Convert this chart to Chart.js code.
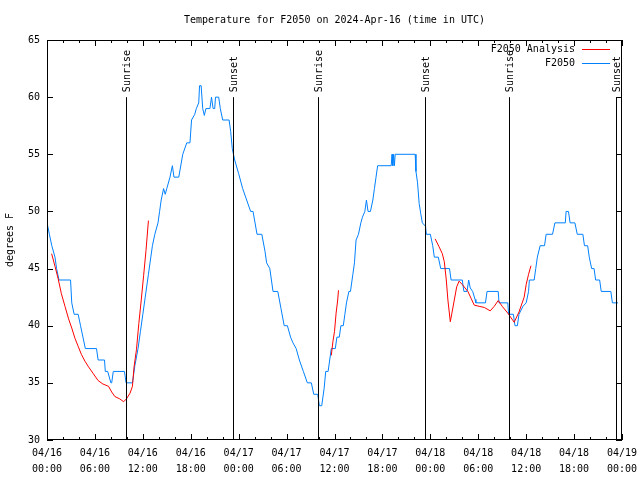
<!DOCTYPE html>
<html>
<head>
<meta charset="utf-8">
<script src="https://cdn.jsdelivr.net/npm/chart.js@4/dist/chart.umd.min.js"></script>
<style>
  html, body { margin: 0; padding: 0; background: #fff; }
</style>
</head>
<body>
<canvas id="chart" width="640" height="480"></canvas>
<script>
// hours since 2024-04-16 00:00 UTC
const obsHours = [
  0, 0.3, 0.6, 1.0, 1.2, 1.5, 2.95, 3.1, 3.4, 3.9, 4.2, 4.5, 4.8, 6.2, 6.4, 7.2, 7.3, 7.6, 8.0, 8.1,
  8.3, 9.7, 9.9, 10.7, 11.0, 11.4, 11.7, 12.0, 12.3, 12.7, 13.0, 13.2, 13.5, 13.9, 14.1, 14.3, 14.6, 14.8,
  15.0, 15.4, 15.7, 15.9, 16.5, 17.0, 17.5, 17.9, 18.1, 18.5, 18.7, 19.0, 19.1, 19.3, 19.5, 19.7, 19.9,
  20.4, 20.6, 20.8, 21.0, 21.1, 21.5, 21.7, 22.0, 22.8, 23.0, 23.2, 23.5, 24.0, 24.5, 25.0, 25.5, 25.8,
  26.3, 26.9, 27.3, 27.5, 27.9, 28.3, 28.9, 29.3, 29.7, 30.1, 30.5, 30.8, 31.2, 31.6, 32.1, 32.6, 33.1,
  33.4, 33.9, 34.1, 34.4, 34.7, 34.9, 35.2, 35.4, 35.6, 36.1, 36.3, 36.6, 36.8, 37.1, 37.3, 37.5, 37.8,
  38.0, 38.3, 38.5, 38.7, 39.0, 39.3, 39.5, 39.8, 40.0, 40.2, 40.5, 40.8, 41.0, 41.2, 41.4, 41.6, 43.1,
  43.2, 43.3, 43.4, 43.5, 43.6, 46.1, 46.2, 46.4, 46.6, 46.8, 47.0, 47.4, 47.5, 48.0, 48.3, 48.5, 49.0,
  49.3, 50.4, 50.6, 52.0, 52.2, 52.6, 52.8, 53.0, 53.3, 53.6, 53.7, 54.9, 55.1, 56.5, 56.6, 57.7, 57.8,
  58.4, 58.6, 58.9, 59.1, 59.6, 60.0, 60.3, 60.4, 61.0, 61.2, 61.4, 61.75, 62.3, 62.5, 63.3, 63.6, 64.9,
  65.0, 65.3, 65.5, 66.1, 66.4, 67.1, 67.3, 67.7, 67.9, 68.2, 68.5, 68.7, 69.2, 69.4, 70.6, 70.8, 71.5
]
const obsTemps = [
  49, 48, 47, 46, 45, 44, 44, 42, 41, 41, 40, 39, 38, 38, 37, 37, 36, 36, 35, 35,
  36, 36, 35, 35, 36.5, 38, 39.5, 41, 42.5, 44.5, 46, 47, 48, 49, 50, 51, 52, 51.5,
  52, 53, 54, 53, 53, 55, 56, 56, 58, 58.5, 59, 59.5, 61, 61, 59, 58.4, 59,
  59, 60, 59, 59, 60, 60, 59, 58, 58, 57, 55.5, 54.5, 53.3, 52, 51, 50, 50,
  48, 48, 46.5, 45.5, 45, 43, 43, 41.5, 40, 40, 39, 38.5, 38, 37, 36, 35, 35,
  34, 34, 33, 33, 34.5, 36, 36, 37, 38, 38, 39, 39, 40, 40, 41, 42, 43,
  43, 44.5, 45.5, 47.5, 48, 49, 49.5, 50, 51, 50, 50, 51, 52, 53, 54, 54, 54,
  55, 54, 55, 54, 55, 55, 53.5, 52.5, 50.7, 49.8, 49, 48.7, 48, 48, 47, 46, 46,
  45, 45, 44, 44, 43, 43, 44, 43.3, 43, 42.3, 42, 42, 43, 43, 42, 42, 41,
  41, 40, 40, 41, 41.7, 42, 43, 44, 44, 45, 46, 47, 47, 48, 48, 49, 49,
  50, 50, 49, 49, 48, 48, 47, 47, 46, 45, 45, 44, 44, 43, 43, 42, 42
]

// analysis segments, null breaks the line
const anaHours = [
  0.58, 1.0, 1.4, 1.8, 2.25, 2.7, 3.1, 3.5, 3.9, 4.3, 4.75, 5.2, 5.8, 6.4, 7.0, 7.7, 8.1, 8.5, 9.1, 9.6,
  9.95, 10.4, 10.7, 10.9, 11.2, 11.5, 11.8, 12.1, 12.4, 12.7,
  13.0,
  35.6, 35.8, 36.0, 36.2, 36.4, 36.5,
  37.0,
  48.6, 49.1, 49.5, 49.75, 50.0, 50.2, 50.5, 50.7, 51.0, 51.3, 51.6, 52.0, 52.7, 53.1, 53.5, 54.1, 54.75,
  55.5, 56.0, 56.5, 57.0, 57.7, 58.5, 59.1, 59.75, 60.0, 60.3, 60.6
]
const anaTemps = [
  46.3, 45.2, 44.1, 42.8, 41.7, 40.6, 39.8, 38.9, 38.2, 37.5, 36.9, 36.4, 35.8, 35.2, 34.9, 34.7, 34.2, 33.8, 33.6, 33.35,
  33.6, 34.1, 34.7, 36.4, 37.9, 40.2, 42.25, 44.4, 46.6, 49.2,
  null,
  37.4, 38.6, 39.5, 41.1, 42.25, 43.1,
  null,
  47.6, 46.9, 46.3, 45.6, 44.0, 42.25, 40.35, 41.1, 42.25, 43.4, 43.9, 43.6, 43.0, 42.4, 41.8, 41.7, 41.6,
  41.3, 41.7, 42.2, 41.7, 41.1, 40.3, 41.2, 42.5, 43.6, 44.5, 45.25
]

const eventHours = [9.875, 23.3, 33.9, 47.3, 57.8, 71.3]
const eventLabels = ["Sunrise", "Sunset", "Sunrise", "Sunset", "Sunrise", "Sunset"]
const dayLabels = ["04/16", "04/17", "04/18", "04/19"]

const RED = "#ff0000"
const BLUE = "rgb(0,128,255)"
const FONT = "'DejaVu Sans Mono', monospace"

const toPoints = (xs, ys) => xs.map((h, i) => ({ x: h, y: ys[i] }))

const decorations = {
  id: "decorations",
  afterDatasetsDraw(chart) {
    const { ctx, chartArea: a, scales: { x, y } } = chart
    ctx.save()
    ctx.strokeStyle = "#000"
    ctx.fillStyle = "#000"
    ctx.lineWidth = 1

    // frame
    ctx.strokeRect(a.left + 0.5, a.top + 0.5, a.right - a.left - 1, a.bottom - a.top - 1)

    // inward tics
    ctx.beginPath()
    for (let h = 0; h <= 72; h += 2) {
      const px = Math.round(x.getPixelForValue(h)) + 0.5
      const len = h % 6 === 0 ? 6 : 3
      ctx.moveTo(px, a.bottom); ctx.lineTo(px, a.bottom - len)
      ctx.moveTo(px, a.top); ctx.lineTo(px, a.top + len)
    }
    for (let t = 30; t <= 65; t += 5) {
      const py = Math.round(y.getPixelForValue(t)) + 0.5
      ctx.moveTo(a.left, py); ctx.lineTo(a.left + 6, py)
      ctx.moveTo(a.right, py); ctx.lineTo(a.right - 6, py)
    }
    ctx.stroke()

    // sunrise / sunset markers
    ctx.font = "10px " + FONT
    eventHours.forEach((h, i) => {
      const px = Math.round(x.getPixelForValue(h)) + 0.5
      const top = y.getPixelForValue(60)
      ctx.beginPath()
      ctx.moveTo(px, a.bottom)
      ctx.lineTo(px, top)
      ctx.stroke()
      ctx.save()
      ctx.translate(px + 1, top - 5)
      ctx.rotate(-Math.PI / 2)
      ctx.textAlign = "left"
      ctx.textBaseline = "middle"
      ctx.fillText(eventLabels[i], 0, 0)
      ctx.restore()
    })

    // title
    ctx.textAlign = "center"
    ctx.textBaseline = "middle"
    ctx.fillText("Temperature for F2050 on 2024-Apr-16 (time in UTC)", (a.left + a.right) / 2, 20)

    // key
    const keyColors = [RED, BLUE]
    ctx.textAlign = "right"
    chart.data.datasets.forEach((ds, i) => {
      const ky = 49 + i * 14
      ctx.fillStyle = "#000"
      ctx.fillText(ds.label, 575, ky)
      ctx.fillStyle = keyColors[i]
      ctx.fillRect(582, ky, 28, 1)
    })
    ctx.restore()
  }
}

new Chart(document.getElementById("chart"), {
  type: "line",
  data: {
    datasets: [
      {
        label: "F2050 Analysis",
        data: toPoints(anaHours, anaTemps),
        borderColor: RED,
        borderWidth: 1,
        pointRadius: 0,
        spanGaps: false
      },
      {
        label: "F2050",
        data: toPoints(obsHours, obsTemps),
        borderColor: BLUE,
        borderWidth: 1,
        pointRadius: 0
      }
    ]
  },
  options: {
    responsive: false,
    animation: false,
    layout: { padding: { top: 40, right: 18, left: 0, bottom: 0 } },
    plugins: {
      legend: { display: false },
      tooltip: { enabled: false },
      title: { display: false }
    },
    scales: {
      x: {
        type: "linear",
        min: 0,
        max: 72,
        grid: { display: false, drawTicks: false, tickLength: 0 },
        border: { display: false },
        ticks: {
          stepSize: 6,
          autoSkip: false,
          maxRotation: 0,
          padding: 5,
          color: "#000",
          font: { family: FONT, size: 10, lineHeight: 1.6 },
          callback: (v) => {
            const day = dayLabels[Math.floor(v / 24)]
            const hh = String(v % 24).padStart(2, "0")
            return [day, hh + ":00"]
          }
        },
        afterFit: (s) => {
          s.height = 40
          s.paddingLeft = 0
          s.paddingRight = 0
        }
      },
      y: {
        min: 30,
        max: 65,
        grid: { display: false, drawTicks: false, tickLength: 0 },
        border: { display: false },
        ticks: {
          stepSize: 5,
          padding: 7,
          color: "#000",
          font: { family: FONT, size: 10 }
        },
        title: {
          display: true,
          text: "degrees F",
          color: "#000",
          font: { family: FONT, size: 10 },
          padding: { top: 4, bottom: 0 }
        },
        afterFit: (s) => {
          s.width = 47
          s.paddingTop = 0
          s.paddingBottom = 0
        }
      }
    }
  },
  plugins: [decorations]
})
</script>
</body>
</html>
